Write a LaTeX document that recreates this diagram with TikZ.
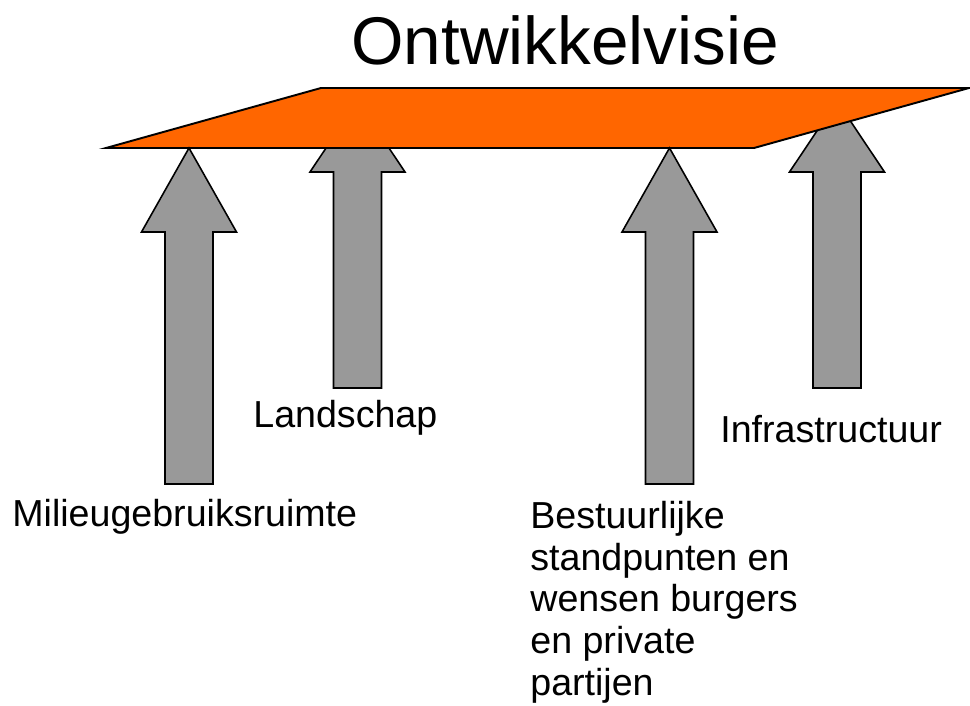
\documentclass[tikz,border=0pt]{standalone}
\usepackage{fontspec}
\setmainfont{Liberation Sans}
\usepackage{tikz}
\usepackage{xcolor}
\definecolor{plate-orange}{HTML}{FF6600}
\definecolor{arrow-grey}{HTML}{999999}
\tikzset{
    plate/.style = {draw=black, fill=plate-orange, line width=1.1pt, line join=miter},
    up-arrow/.style = {draw=black, fill=arrow-grey, line width=0.9pt},
    label-text/.style = {font=\fontsize{21.4}{23.7}\selectfont, inner sep=0pt, anchor=base west},
    title-text/.style = {font=\fontsize{38.4}{44}\selectfont, inner sep=0pt, anchor=base},
}

\begin{document}
\begin{tikzpicture}[x=0.02cm, y=-0.02cm]
\useasboundingbox (0,0) rectangle (970,706);
% arrows behind the plate
\foreach \cx/\tip/\head/\foot in {357.5/101/172/388, 837/101/172/388}
    \draw[up-arrow] (\cx,\tip) -- (\cx+47.5,\head) -- (\cx+24,\head) -- (\cx+24,\foot)
        -- (\cx-24,\foot) -- (\cx-24,\head) -- (\cx-47.5,\head) -- cycle;
% the plate
\draw[plate] (106,148) -- (321,88) -- (969,88) -- (754,148) -- cycle;
% arrows in front
\foreach \cx/\tip/\head/\foot in {189/148/232/484, 669.5/148/232/484}
    \draw[up-arrow] (\cx,\tip) -- (\cx+47.5,\head) -- (\cx+24,\head) -- (\cx+24,\foot)
        -- (\cx-24,\foot) -- (\cx-24,\head) -- (\cx-47.5,\head) -- cycle;
\node[title-text] (title) at (565,65) {Ontwikkelvisie};
\node[label-text] (landschap) at (253,427) {Landschap};
\node[label-text] (milieu) at (12,526) {Milieugebruiksruimte};
\node[label-text] (infra) at (720,442) {Infrastructuur};
\node[label-text, anchor=north west, align=left] (bestuur) at (530,501)
    {Bestuurlijke\\standpunten en\\wensen burgers\\en private\\partijen};
\end{tikzpicture}
\end{document}
